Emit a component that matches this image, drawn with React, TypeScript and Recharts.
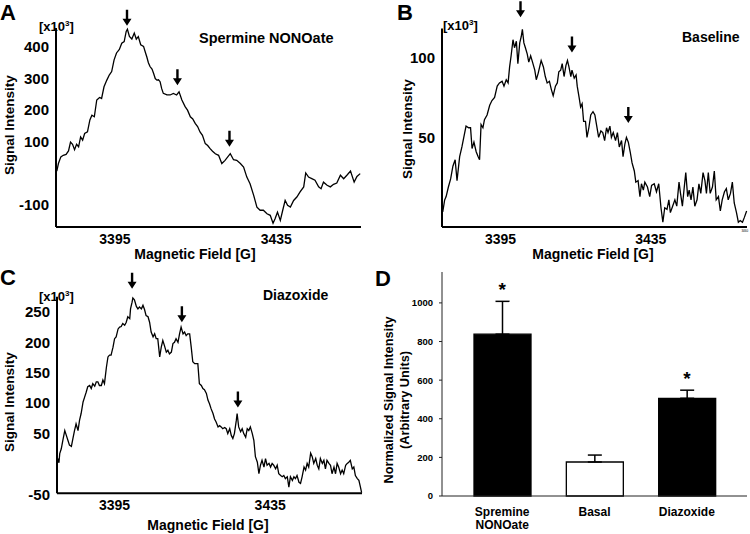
import React from "react";
import {
  LineChart,
  Line,
  XAxis,
  YAxis,
  ReferenceDot,
  BarChart,
  Bar,
  Cell,
  ErrorBar,
} from "recharts";

const FONT = '"Liberation Sans", Arial, sans-serif';

// field [G], signal [x10^3]
const spermineTrace: [number, number][] = [
  [3380.6, 7], [3381.0, 31], [3381.6, 52], [3382.2, 57], [3382.9, 60], [3383.5, 71],
  [3384.0, 99], [3384.5, 92], [3385.0, 75], [3385.5, 92], [3386.0, 84], [3386.5, 115],
  [3387.0, 105], [3387.5, 126], [3388.2, 131], [3388.8, 169], [3389.3, 184], [3389.9, 179],
  [3390.5, 232], [3391.2, 240], [3391.7, 237], [3392.3, 274], [3393.0, 295], [3393.6, 311],
  [3394.2, 322], [3394.8, 359], [3395.4, 381], [3396.1, 392], [3396.7, 412], [3397.3, 417],
  [3397.8, 449], [3398.1, 456], [3398.6, 433], [3399.2, 425], [3399.8, 444], [3400.3, 425],
  [3400.8, 433], [3401.4, 407], [3402.1, 402], [3402.6, 381], [3402.9, 369], [3403.3, 350],
  [3403.7, 338], [3404.2, 330], [3404.6, 316], [3405.0, 300], [3405.4, 295], [3405.8, 296],
  [3406.2, 290], [3406.6, 268], [3407.0, 253], [3407.9, 248], [3408.7, 248], [3409.5, 253],
  [3410.3, 248], [3410.9, 258], [3411.6, 232], [3412.4, 211], [3413.0, 200], [3413.7, 179],
  [3414.3, 172], [3414.9, 158], [3415.5, 148], [3416.1, 131], [3416.7, 120], [3417.4, 94],
  [3418.0, 88], [3418.6, 78], [3419.2, 70], [3419.9, 62], [3420.7, 57], [3421.5, 31],
  [3422.3, 41], [3423.6, 62], [3424.4, 43], [3425.2, 41], [3426.1, 31], [3426.9, 20],
  [3427.7, -12], [3428.5, -33], [3429.4, -70], [3430.2, -107], [3431.0, -117], [3431.8, -117],
  [3432.7, -128], [3433.5, -133], [3434.2, -158], [3434.7, -144], [3435.3, -123], [3436.0, -149],
  [3436.6, -117], [3437.2, -86], [3437.8, -101], [3438.5, -107], [3439.3, -86], [3440.1, -75],
  [3440.9, -59], [3441.8, -43], [3442.3, 1], [3443.0, -12], [3443.8, -17], [3444.6, -22],
  [3445.5, -43], [3446.1, -49], [3446.7, -28], [3447.6, -38], [3448.4, -43], [3449.2, -35],
  [3450.0, -31], [3450.9, -6], [3451.7, -17], [3452.5, -6], [3453.4, 7], [3454.3, -28],
  [3455.0, -10], [3455.8, -1],
];
const spermineTicks = [-100, 100, 200, 300, 400];
const spermineArrows: [number, number][] = [[3398.0, 467], [3410.5, 279], [3423.4, 84]];

const baselineTrace: [number, number][] = [
  [3379.6, 3.5], [3380.1, 10.8], [3380.5, 13], [3381.1, 19], [3381.7, 24], [3382.3, 32],
  [3382.9, 36], [3383.4, 23], [3384.1, 38], [3384.7, 44], [3385.2, 50], [3385.8, 57],
  [3386.5, 56], [3387.0, 56], [3387.4, 43], [3387.9, 47], [3388.5, 41], [3389.0, 38],
  [3389.4, 36], [3389.8, 58], [3390.3, 56], [3390.7, 61], [3391.4, 64], [3392.1, 70],
  [3392.7, 73], [3393.4, 75], [3394.1, 82], [3394.7, 84], [3395.4, 85], [3395.9, 82],
  [3396.5, 86], [3397.0, 84], [3397.4, 94], [3397.8, 101], [3398.3, 111], [3398.7, 106],
  [3399.2, 110], [3399.6, 96], [3400.1, 109], [3400.5, 113], [3400.8, 117.5], [3401.2, 109],
  [3401.6, 106], [3402.1, 102], [3402.5, 97], [3403.0, 101], [3403.5, 97], [3404.1, 92],
  [3404.5, 86], [3405.0, 90], [3405.4, 94], [3405.8, 98], [3406.4, 94], [3406.9, 88],
  [3407.4, 84], [3408.0, 85], [3408.5, 80], [3409.0, 76], [3409.6, 82], [3410.1, 84],
  [3410.5, 91], [3411.0, 92], [3411.4, 96], [3411.9, 88], [3412.4, 95], [3412.8, 98],
  [3413.2, 94], [3413.7, 88], [3414.0, 92], [3414.6, 87], [3415.1, 89], [3415.4, 82],
  [3415.9, 75], [3416.3, 69], [3416.7, 71], [3417.1, 60], [3417.6, 60], [3418.0, 50],
  [3418.5, 56], [3419.0, 64], [3419.6, 66], [3420.1, 64], [3420.6, 57], [3421.1, 50],
  [3421.7, 54], [3422.2, 53], [3422.7, 48], [3423.2, 56], [3423.6, 53], [3424.1, 57],
  [3424.5, 50], [3425.0, 53], [3425.6, 48], [3426.1, 53], [3426.6, 44], [3427.2, 48],
  [3427.6, 38], [3428.1, 46], [3428.5, 50], [3429.0, 47], [3429.5, 41], [3430.0, 34],
  [3430.6, 29], [3431.0, 22], [3431.6, 23], [3432.1, 13], [3432.5, 21], [3433.0, 17],
  [3433.4, 22], [3434.1, 19], [3434.7, 13], [3435.2, 20], [3435.9, 21], [3436.5, 16],
  [3437.1, 21], [3437.7, 6], [3438.2, -3], [3438.7, 6], [3439.3, 5], [3439.8, 11],
  [3440.2, 3], [3440.8, 7], [3441.4, 11], [3441.9, 7], [3442.5, 22], [3442.9, 15],
  [3443.4, 7], [3443.9, 19], [3444.3, 28], [3444.8, 13], [3445.2, 17], [3445.7, 11],
  [3446.2, 19], [3446.7, 7], [3447.3, 11], [3447.8, 21], [3448.3, 15], [3448.9, 28],
  [3449.4, 23], [3449.8, 15], [3450.3, 28], [3450.8, 15], [3451.4, 19], [3451.9, 29],
  [3452.4, 11], [3453.0, 13], [3453.5, 4], [3454.0, 11], [3454.6, 16], [3455.1, 18],
  [3455.6, 11], [3456.2, 15], [3456.7, 22], [3457.2, 9], [3457.8, 3], [3458.3, -3],
  [3458.8, -2], [3459.4, -3], [3459.9, 0], [3460.5, 4],
];
const baselineTicks = [50, 100];
const baselineFieldTicks = [3395, 3435, 3460];
const baselineArrows: [number, number][] = [[3400.3, 125], [3414.0, 103], [3429.0, 59]];

const diazoxideTrace: [number, number][] = [
  [3380.4, 9], [3380.7, 2], [3380.9, 17], [3381.3, 25], [3381.7, 39], [3382.2, 55],
  [3382.6, 47], [3383.0, 39], [3383.4, 31], [3383.9, 29], [3384.3, 42], [3384.7, 55],
  [3385.1, 66], [3385.6, 55], [3386.0, 72], [3386.4, 83], [3386.9, 102], [3387.3, 110],
  [3387.7, 118], [3388.1, 127], [3388.6, 129], [3389.0, 124], [3389.4, 132], [3389.9, 128],
  [3390.3, 135], [3390.7, 135], [3391.1, 129], [3391.6, 129], [3392.0, 138], [3392.4, 132],
  [3392.9, 159], [3393.3, 176], [3393.7, 179], [3394.1, 179], [3394.6, 192], [3395.0, 206],
  [3395.4, 209], [3395.9, 222], [3396.3, 225], [3396.7, 226], [3397.1, 231], [3397.6, 228],
  [3398.0, 233], [3398.4, 242], [3398.9, 239], [3399.1, 255], [3399.5, 266], [3399.7, 273],
  [3400.1, 270], [3400.6, 259], [3401.0, 255], [3401.4, 258], [3401.9, 255], [3402.3, 261],
  [3402.7, 254], [3403.1, 244], [3403.6, 242], [3404.0, 233], [3404.4, 217], [3404.9, 209],
  [3405.3, 214], [3405.7, 206], [3406.1, 206], [3406.6, 176], [3407.0, 192], [3407.4, 203],
  [3407.8, 195], [3408.3, 184], [3408.7, 187], [3409.1, 181], [3409.6, 184], [3410.0, 198],
  [3410.4, 200], [3410.8, 206], [3411.3, 200], [3411.7, 214], [3412.1, 225], [3412.6, 214],
  [3413.0, 217], [3413.4, 211], [3413.8, 214], [3414.3, 214], [3414.7, 192], [3415.1, 168],
  [3415.6, 165], [3416.0, 165], [3416.4, 165], [3416.8, 132], [3417.3, 129], [3417.7, 124],
  [3418.1, 122], [3418.6, 116], [3419.0, 105], [3419.4, 99], [3419.8, 91], [3420.3, 83],
  [3420.7, 74], [3421.1, 69], [3421.6, 61], [3422.0, 63], [3422.4, 61], [3422.8, 58],
  [3423.3, 60], [3423.7, 58], [3424.1, 50], [3424.6, 58], [3425.0, 47], [3425.4, 42],
  [3425.8, 50], [3426.3, 72], [3426.5, 83], [3426.9, 61], [3427.4, 53], [3427.8, 58],
  [3428.2, 50], [3428.7, 44], [3429.1, 58], [3429.5, 55], [3429.9, 61], [3430.4, 50],
  [3430.8, 39], [3431.2, 12], [3431.7, 3], [3432.1, -16], [3432.5, -2], [3432.9, 6],
  [3433.4, -5], [3433.8, 9], [3434.2, -2], [3434.7, 1], [3435.1, -5], [3435.5, 1],
  [3435.9, -2], [3436.4, -8], [3436.8, -2], [3437.2, -16], [3437.7, -19], [3438.1, -21],
  [3438.5, -19], [3438.9, -24], [3439.4, -21], [3439.8, -38], [3440.2, -21], [3440.7, -27],
  [3441.1, -21], [3441.5, -24], [3441.9, -19], [3442.4, -30], [3442.8, -32], [3443.2, -21],
  [3443.7, -5], [3444.1, -10], [3444.5, 1], [3444.9, -5], [3445.4, 18], [3445.8, 12],
  [3446.2, 1], [3446.7, 9], [3447.1, -2], [3447.5, -8], [3447.9, 9], [3448.4, 1],
  [3448.8, 6], [3449.2, -8], [3449.6, 6], [3450.1, 1], [3450.5, -2], [3450.9, -16],
  [3451.4, -5], [3451.8, -16], [3452.2, 1], [3452.6, -5], [3453.1, -16], [3453.5, -10],
  [3453.9, -16], [3454.4, -2], [3454.8, 1], [3455.2, 3], [3455.6, 6], [3456.1, -8],
  [3456.5, -5], [3456.9, -19], [3457.4, -24], [3457.8, -27], [3458.2, -38], [3458.5, -47],
];
const diazoxideTicks = [-50, 50, 100, 150, 200, 250];
const diazoxideArrows: [number, number][] = [[3399.5, 288], [3412.3, 233], [3426.7, 93]];

const fieldTicks = [3395, 3435];

// panel D
const groups = ["Spremine\nNONOate", "Basal", "Diazoxide"];
const means = [838, 176, 506];
const sems = [170, 36, 42];
const significant = [true, false, true];
const barFills = ["#000", "#fff", "#000"];
const intensityTicks = [0, 200, 400, 600, 800, 1000];

const groupData = groups.map((g, i) => ({ group: g, mean: means[i], err: [0, sems[i]] }));

const Arrow = (props: any) => {
  const { cx, cy } = props;
  if (cx == null || cy == null) return <g />;
  return (
    <path
      d={`M${cx - 1.2},${cy - 16} L${cx + 1.2},${cy - 16} L${cx + 1.2},${cy - 7} L${cx + 4.5},${cy - 7} L${cx},${cy} L${cx - 4.5},${cy - 7} L${cx - 1.2},${cy - 7} Z`}
      fill="#000"
    />
  );
};

const Star = (props: any) => {
  const { cx, cy } = props;
  if (cx == null || cy == null) return <g />;
  return (
    <text x={cx} y={cy - 5} textAnchor="middle" fontSize={19} fontWeight="bold" fontFamily={FONT} fill="#000">
      *
    </text>
  );
};

const FieldTick = (props: any) => {
  const { x, y, payload } = props;
  const tiny = payload.value === 3460;
  return (
    <text
      x={x}
      y={y + (tiny ? 5 : 16.5)}
      textAnchor="middle"
      fontSize={tiny ? 3 : 14}
      fontWeight={tiny ? "normal" : "bold"}
      fontFamily={FONT}
      fill="#000"
    >
      {payload.value}
    </text>
  );
};

const GroupTick = (props: any) => {
  const { x, y, payload } = props;
  const lines = String(payload.value).split("\n");
  return (
    <text x={x} y={y} textAnchor="middle" fontSize={12} fontWeight="bold" fontFamily={FONT} fill="#000">
      {lines.map((l, i) => (
        <tspan key={l} x={x} dy={i === 0 ? 19.5 : 13}>
          {l}
        </tspan>
      ))}
    </text>
  );
};

const axisStroke = { stroke: "#000", strokeWidth: 2 };

function SpectrumPanel({
  left,
  top,
  trace,
  xDomain,
  yDomain,
  yTicks,
  xTicks,
  arrows,
  margin,
}: {
  left: number;
  top: number;
  trace: [number, number][];
  xDomain: [number, number];
  yDomain: [number, number];
  yTicks: number[];
  xTicks: number[];
  arrows: [number, number][];
  margin: { top: number; right: number; bottom: number; left: number };
}) {
  const data = trace.map(([field, signal]) => ({ field, signal }));
  return (
    <div style={{ position: "absolute", left, top }}>
      <LineChart width={375} height={267} data={data} margin={margin}>
        <XAxis
          type="number"
          dataKey="field"
          domain={xDomain}
          ticks={xTicks}
          interval={0}
          tickLine={false}
          tickSize={0}
          tickMargin={0}
          axisLine={axisStroke}
          tick={<FieldTick />}
          height={30}
        />
        <YAxis
          type="number"
          domain={yDomain}
          ticks={yTicks}
          interval={0}
          width={50}
          tickLine={false}
          tickSize={5}
          tickMargin={2}
          axisLine={axisStroke}
          tick={{ fill: "#000", fontSize: 15, fontWeight: "bold", fontFamily: FONT }}
        />
        <Line
          type="linear"
          dataKey="signal"
          stroke="#000"
          strokeWidth={1.3}
          dot={false}
          isAnimationActive={false}
        />
        {arrows.map(([f, v]) => (
          <ReferenceDot key={f} x={f} y={v} r={1} ifOverflow="visible" shape={Arrow} />
        ))}
      </LineChart>
    </div>
  );
}

const textProps = { fontFamily: FONT, fontWeight: "bold" as const, fill: "#000" };

export default function App() {
  return (
    <div
      style={{
        position: "absolute",
        left: 0,
        top: 0,
        width: 750,
        height: 534,
        background: "#fff",
        overflow: "hidden",
      }}
    >
      <SpectrumPanel
        left={0}
        top={0}
        trace={spermineTrace}
        xDomain={[3380.4, 3456]}
        yDomain={[-170, 460]}
        yTicks={spermineTicks}
        xTicks={fieldTicks}
        arrows={spermineArrows}
        margin={{ top: 28, right: 14, bottom: 10, left: 6 }}
      />
      <SpectrumPanel
        left={375}
        top={0}
        trace={baselineTrace}
        xDomain={[3379.4, 3460.6]}
        yDomain={[-6, 118]}
        yTicks={baselineTicks}
        xTicks={baselineFieldTicks}
        arrows={baselineArrows}
        margin={{ top: 28.5, right: 3, bottom: 10, left: 17 }}
      />
      <SpectrumPanel
        left={0}
        top={267}
        trace={diazoxideTrace}
        xDomain={[3380.2, 3458.6]}
        yDomain={[-48, 275]}
        yTicks={diazoxideTicks}
        xTicks={fieldTicks}
        arrows={diazoxideArrows}
        margin={{ top: 29.7, right: 13, bottom: 10.8, left: 7 }}
      />

      <div style={{ position: "absolute", left: 375, top: 267 }}>
        <BarChart width={375} height={267} data={groupData} margin={{ top: 5, right: 3, bottom: 8, left: 7 }} barSize={57}>
          <XAxis
            dataKey="group"
            type="category"
            padding={{ left: 14, right: 14 }}
            interval={0}
            tickLine={false}
            tickSize={0}
            tickMargin={0}
            axisLine={{ stroke: "#222", strokeWidth: 1 }}
            tick={<GroupTick />}
            height={30}
          />
          <YAxis
            type="number"
            domain={[0, 1160]}
            ticks={intensityTicks}
            interval={0}
            width={60}
            tickSize={3}
            tickMargin={6}
            tickLine={{ stroke: "#222" }}
            axisLine={{ stroke: "#222", strokeWidth: 1 }}
            tick={{ fill: "#000", fontSize: 9.5, fontWeight: "bold", fontFamily: FONT }}
          />
          <Bar dataKey="mean" stroke="#000" strokeWidth={1.3} isAnimationActive={false}>
            {groups.map((g, i) => (
              <Cell key={g} fill={barFills[i]} />
            ))}
            <ErrorBar dataKey="err" direction="y" width={7} stroke="#000" strokeWidth={1.5} />
          </Bar>
          {groups.map((g, i) =>
            significant[i] ? (
              <ReferenceDot key={g} x={g} y={means[i] + sems[i]} r={1} ifOverflow="visible" shape={Star} />
            ) : null
          )}
        </BarChart>
      </div>

      <svg
        width={750}
        height={534}
        style={{ position: "absolute", left: 0, top: 0, pointerEvents: "none" }}
      >
        {/* panel letters */}
        <text x={0} y={20} fontSize={22} {...textProps}>A</text>
        <text x={397} y={20} fontSize={22} {...textProps}>B</text>
        <text x={0} y={285} fontSize={22} {...textProps}>C</text>
        <text x={375} y={286} fontSize={22} {...textProps}>D</text>

        {/* titles */}
        <text x={199} y={43} fontSize={14.5} {...textProps}>Spermine NONOate</text>
        <text x={682} y={42} fontSize={14} {...textProps}>Baseline</text>
        <text x={263} y={300} fontSize={14} {...textProps}>Diazoxide</text>

        {/* units */}
        {[
          [39, 31],
          [443, 29.5],
          [39, 300.5],
        ].map(([x, y]) => (
          <text key={`${x}-${y}`} x={x} y={y} fontSize={13} {...textProps}>
            [x10<tspan dy={-5} fontSize={8}>3</tspan>
            <tspan dy={5}>]</tspan>
          </text>
        ))}

        {/* axis titles */}
        {[
          [9, 125],
          [407, 129],
          [9, 402],
        ].map(([x, y]) => (
          <text
            key={`s-${x}-${y}`}
            x={x}
            y={y}
            transform={`rotate(-90 ${x} ${y})`}
            textAnchor="middle"
            dominantBaseline="central"
            fontSize={13.5}
            {...textProps}
          >
            Signal Intensity
          </text>
        ))}
        {[
          [195, 258.5],
          [593, 258.5],
          [208, 530],
        ].map(([x, y]) => (
          <text key={`m-${x}-${y}`} x={x} y={y} textAnchor="middle" fontSize={14} {...textProps}>
            Magnetic Field [G]
          </text>
        ))}

        <text
          x={388}
          y={400}
          transform="rotate(-90 388 400)"
          textAnchor="middle"
          dominantBaseline="central"
          fontSize={12.8}
          {...textProps}
        >
          Normalized Signal Intensity
        </text>
        <text
          x={404.5}
          y={400}
          transform="rotate(-90 404.5 400)"
          textAnchor="middle"
          dominantBaseline="central"
          fontSize={12.8}
          {...textProps}
        >
          (Arbitrary Units)
        </text>
      </svg>
    </div>
  );
}
